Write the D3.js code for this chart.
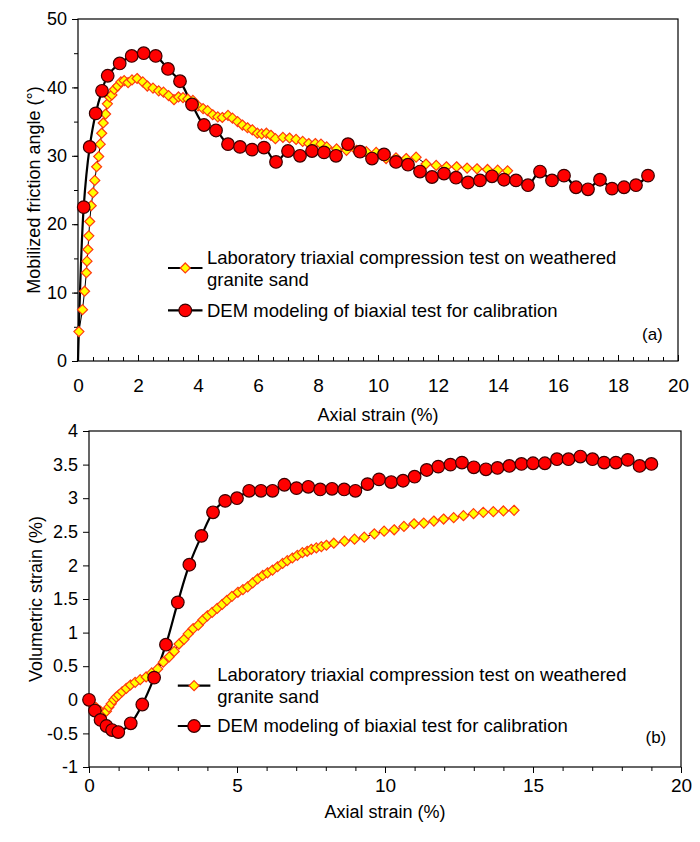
<!DOCTYPE html>
<html><head><meta charset="utf-8">
<script src="https://cdn.jsdelivr.net/npm/d3@7"></script>
<style>body{margin:0;background:#fff}svg{font-family:"Liberation Sans Narrow","Liberation Sans",Arial,sans-serif}</style>
</head><body><svg id="c" width="700" height="842"></svg>
<script>
// (a) friction angle
const labA_x = [0.03,0.15,0.22,0.28,0.3,0.33,0.36,0.39,0.44,0.5,0.56,0.62,0.69,0.74,0.79,0.84,0.92,0.98,1.05,1.13,1.21,1.32,1.43,1.54,1.67,1.8,1.97,2.16,2.31,2.5,2.69,2.85,3.02,3.2,3.35,3.5,3.66,3.83,4.0,4.17,4.32,4.49,4.66,4.81,5.0,5.15,5.32,5.48,5.65,5.81,5.98,6.12,6.28,6.43,6.58,6.83,7.05,7.27,7.49,7.69,7.91,8.1,8.29,8.62,8.95,9.28,9.61,9.94,10.27,10.6,10.94,11.27,11.6,11.94,12.28,12.62,12.97,13.3,13.65,13.99,14.32];
const labA_y = [4.3,7.5,10.2,12.9,14.6,16.3,18.3,20.4,22.7,24.6,26.4,28.4,29.9,31.7,33.3,34.8,36.1,37.6,38.6,38.9,39.7,40.2,40.8,41.0,40.7,41.1,41.3,40.8,40.2,39.9,39.5,39.3,38.8,38.2,38.6,38.5,38.3,38.1,37.3,36.9,36.6,36.0,35.7,35.6,35.9,35.5,35.0,34.5,34.1,33.8,33.3,33.2,33.3,33.0,32.5,32.7,32.6,32.4,32.1,31.8,31.8,31.7,31.3,31.0,30.8,30.8,30.6,30.5,29.6,29.7,29.6,29.8,28.8,28.6,28.4,28.4,28.2,28.1,28.0,27.9,27.8];
const demA_x = [0,0.19,0.39,0.59,0.8,0.99,1.39,1.79,2.19,2.59,3.0,3.4,3.8,4.2,4.6,5.0,5.4,5.8,6.2,6.6,7.0,7.4,7.8,8.2,8.6,9.0,9.4,9.8,10.2,10.6,11.0,11.4,11.8,12.2,12.6,13.0,13.4,13.8,14.2,14.6,15.0,15.4,15.8,16.2,16.6,17.0,17.4,17.8,18.2,18.6,19.0];
const demA_y = [0,22.5,31.3,36.2,39.5,41.7,43.5,44.6,45,44.6,42.7,40.9,37.5,34.5,33.7,31.7,31.3,30.9,31.2,29.1,30.7,30.0,30.7,30.5,30.0,31.7,30.6,29.6,30.2,29.1,28.7,27.7,26.9,27.4,26.8,26.1,26.4,27.0,26.5,26.4,25.7,27.7,26.4,27.1,25.4,25.1,26.5,25.2,25.4,25.7,27.1];
// (b) volumetric strain
const labB_x = [0,0.11,0.25,0.39,0.5,0.59,0.67,0.75,0.84,0.92,1.0,1.12,1.26,1.4,1.56,1.73,1.93,2.12,2.32,2.51,2.71,2.88,3.04,3.21,3.35,3.52,3.69,3.85,4.0,4.16,4.33,4.5,4.66,4.83,5.03,5.2,5.36,5.53,5.7,5.87,6.03,6.2,6.37,6.54,6.7,6.87,7.04,7.21,7.37,7.51,7.68,7.85,8.02,8.27,8.63,8.97,9.3,9.64,9.97,10.31,10.64,10.98,11.31,11.65,11.98,12.32,12.65,12.99,13.32,13.66,14.0,14.36];
const labB_y = [-0.01,-0.07,-0.12,-0.17,-0.2,-0.17,-0.11,-0.06,0,0.04,0.07,0.12,0.17,0.22,0.26,0.3,0.34,0.4,0.46,0.56,0.64,0.72,0.83,0.9,0.98,1.06,1.11,1.19,1.25,1.3,1.36,1.42,1.48,1.54,1.6,1.64,1.68,1.74,1.8,1.85,1.89,1.93,1.98,2.03,2.07,2.11,2.15,2.19,2.21,2.24,2.26,2.28,2.3,2.33,2.36,2.39,2.42,2.47,2.51,2.53,2.58,2.62,2.63,2.66,2.69,2.71,2.74,2.77,2.79,2.8,2.81,2.82];
const demB_x = [0,0.2,0.39,0.59,0.78,0.99,1.41,1.8,2.2,2.6,3.0,3.39,3.8,4.19,4.6,5.0,5.41,5.81,6.2,6.6,7.01,7.41,7.81,8.21,8.62,9.0,9.41,9.8,10.21,10.61,11.0,11.41,11.8,12.21,12.6,13.0,13.41,13.8,14.2,14.61,15.0,15.4,15.81,16.2,16.6,17.01,17.4,17.8,18.2,18.6,19.0];
const demB_y = [0,-0.16,-0.3,-0.39,-0.45,-0.48,-0.35,-0.07,0.33,0.82,1.45,2.01,2.44,2.79,2.96,3.0,3.11,3.11,3.11,3.2,3.15,3.17,3.13,3.14,3.13,3.11,3.21,3.28,3.24,3.26,3.32,3.42,3.47,3.5,3.53,3.46,3.43,3.45,3.48,3.51,3.52,3.52,3.58,3.58,3.62,3.58,3.53,3.53,3.57,3.48,3.51];

const labText = ["Laboratory triaxial compression test on weathered", "granite sand"];
const demText = "DEM modeling of biaxial test for calibration";

const svg = d3.select("#c");
const FS = 18;

function panel(o) {
  const x = d3.scaleLinear().domain([0, 20]).range([o.left, o.right]);
  const y = d3.scaleLinear().domain(o.ydom).range([o.bottom, o.top]);
  const g = svg.append("g");
  g.append("rect").attr("x", o.left).attr("y", o.top).attr("width", o.right - o.left)
    .attr("height", o.bottom - o.top).attr("fill", "none").attr("stroke", "#000").attr("stroke-width", 1.2);
  // x ticks: inward for (a), outward for (b)
  const dir = o.xin ? -1 : 1;
  g.append("g").attr("transform", `translate(0,${o.bottom})`)
    .call(d3.axisBottom(x).tickValues(d3.range(0, 20.01, o.xminor)).tickSize(4 * dir).tickFormat(""))
    .call(a => a.select(".domain").remove());
  g.append("g").attr("transform", `translate(0,${o.bottom})`)
    .call(d3.axisBottom(x).tickValues(d3.range(0, 20.01, o.xstep)).tickSize(6 * dir).tickPadding(o.xin ? 18 : 6))
    .call(a => a.select(".domain").remove())
    .call(a => a.selectAll("text").attr("font-size", FS + 1).attr("font-family", "inherit"));
  if (o.yminor) g.append("g").attr("transform", `translate(${o.left},0)`)
    .call(d3.axisLeft(y).tickValues(d3.range(o.ydom[0], o.ydom[1] + 0.01, o.yminor)).tickSize(4).tickFormat(""))
    .call(a => a.select(".domain").remove());
  g.append("g").attr("transform", `translate(${o.left},0)`)
    .call(d3.axisLeft(y).tickValues(d3.range(o.ydom[0], o.ydom[1] + 0.01, o.ystep)).tickSize(6).tickPadding(5).tickFormat(d => String(+d.toFixed(1))))
    .call(a => a.select(".domain").remove())
    .call(a => a.selectAll("text").attr("font-size", FS).attr("font-family", "inherit"));
  g.append("text").attr("x", (o.left + o.right) / 2).attr("y", o.xtitleY).attr("text-anchor", "middle")
    .attr("font-size", FS).text("Axial strain (%)");
  g.append("text").attr("transform", `translate(${o.ytitleX},${(o.top + o.bottom) / 2}) rotate(-90)`)
    .attr("text-anchor", "middle").attr("font-size", FS).text(o.ytitle);

  const line = d3.line().x(d => x(d[0])).y(d => y(d[1]));
  const lab = o.labX.map((v, i) => [v, o.labY[i]]);
  const dem = o.demX.map((v, i) => [v, o.demY[i]]);
  g.append("path").attr("d", line(lab)).attr("fill", "none").attr("stroke", "#000").attr("stroke-width", 1);
  g.append("path").attr("d", line.curve(d3.curveCatmullRom)(dem)).attr("fill", "none").attr("stroke", "#000").attr("stroke-width", 2.2);
  const dia = d3.symbol().type(d3.symbolDiamond2).size(64);
  g.selectAll(".dia").data(lab).join("path").attr("transform", d => `translate(${x(d[0])},${y(d[1])})`)
    .attr("d", dia).attr("fill", "#ffff00").attr("stroke", "#ff3a10").attr("stroke-width", 1.2);
  g.selectAll(".cir").data(o.skipFirst ? dem.slice(1) : dem).join("circle")
    .attr("cx", d => x(d[0])).attr("cy", d => y(d[1])).attr("r", 6.3)
    .attr("fill", "#ff0000").attr("stroke", "#3a0000").attr("stroke-width", 1.2);

  // legend
  const L = o.leg;
  const ly1 = y(L.y1), ly3 = y(L.y3);
  g.append("line").attr("x1", x(L.x0)).attr("x2", x(L.x1)).attr("y1", ly1).attr("y2", ly1).attr("stroke", "#000").attr("stroke-width", 2.2);
  g.append("path").attr("transform", `translate(${(x(L.x0) + x(L.x1)) / 2},${ly1})`).attr("d", dia)
    .attr("fill", "#ffff00").attr("stroke", "#ff3a10").attr("stroke-width", 1.2);
  g.append("line").attr("x1", x(L.x0)).attr("x2", x(L.x1)).attr("y1", ly3).attr("y2", ly3).attr("stroke", "#000").attr("stroke-width", 2.2);
  g.append("circle").attr("cx", (x(L.x0) + x(L.x1)) / 2).attr("cy", ly3).attr("r", 6.3)
    .attr("fill", "#ff0000").attr("stroke", "#3a0000").attr("stroke-width", 1.2);
  g.append("text").attr("x", x(L.tx)).attr("y", y(L.y0)).attr("dy", "0.35em").attr("font-size", FS + 0.5).text(labText[0]);
  g.append("text").attr("x", x(L.tx)).attr("y", y(L.y2)).attr("dy", "0.35em").attr("font-size", FS + 0.5).text(labText[1]);
  g.append("text").attr("x", x(L.tx)).attr("y", ly3).attr("dy", "0.35em").attr("font-size", FS + 0.5).text(demText);
  g.append("text").attr("x", x(L.px)).attr("y", y(L.py)).attr("dy", "0.35em").attr("font-size", 17).text(o.tag);
}

panel({ left: 78, right: 678, top: 19, bottom: 361, ydom: [0, 50], ystep: 10, yminor: 5, xstep: 2, xminor: 0.5, xin: true,
  xtitleY: 421, ytitleX: 40, ytitle: "Mobilized friction angle (°)", tag: "(a)", skipFirst: true,
  labX: labA_x, labY: labA_y, demX: demA_x, demY: demA_y,
  leg: { x0: 3.0, x1: 4.15, tx: 4.3, y0: 15.2, y1: 13.6, y2: 11.9, y3: 7.4, px: 18.8, py: 4.0 } });

panel({ left: 89, right: 681, top: 431, bottom: 767, ydom: [-1, 4], ystep: 0.5, yminor: 0, xstep: 5, xminor: 1, xin: false,
  xtitleY: 818, ytitleX: 42, ytitle: "Volumetric strain (%)", tag: "(b)", skipFirst: false,
  labX: labB_x, labY: labB_y, demX: demB_x, demY: demB_y,
  leg: { x0: 3.0, x1: 4.1, tx: 4.33, y0: 0.37, y1: 0.21, y2: 0.05, y3: -0.39, px: 18.8, py: -0.56 } });
</script></body></html>
